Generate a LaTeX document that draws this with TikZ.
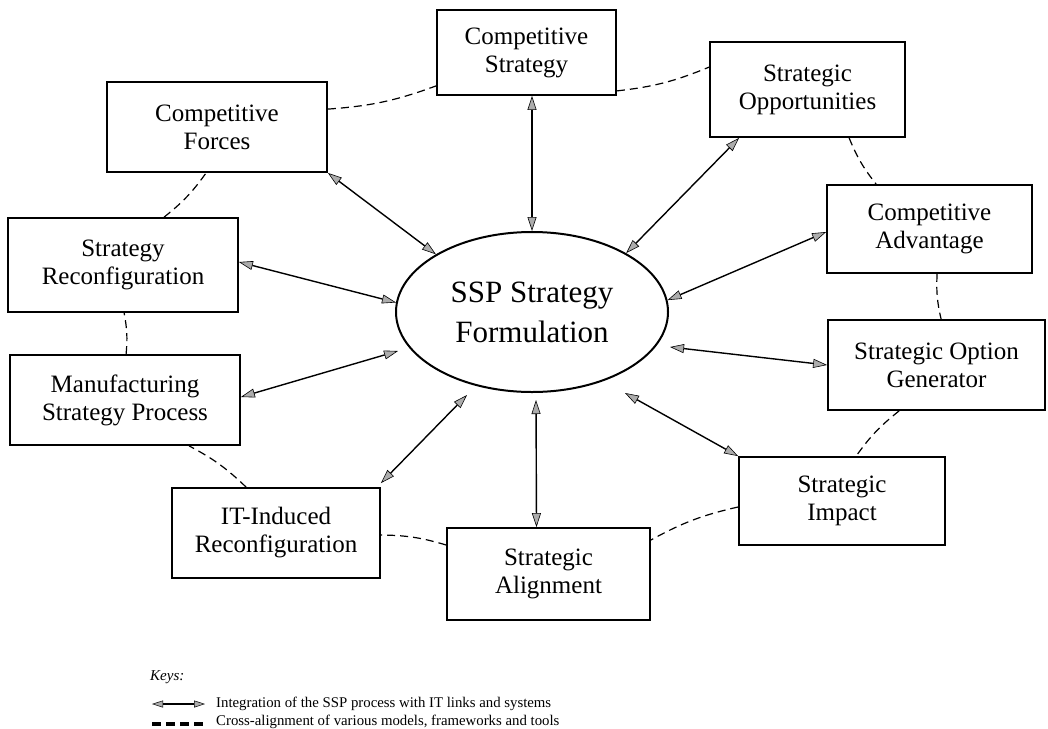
\documentclass[tikz,border=0pt]{standalone}
\usepackage{fontspec}
\setmainfont{Liberation Serif}
\usetikzlibrary{arrows.meta,shapes.geometric,calc}
\begin{document}
\begin{tikzpicture}[x=1pt,y=-1pt,
  box/.style={draw, line width=1.8pt, align=center, inner sep=0pt,
    font=\fontsize{25}{28}\selectfont},
  link/.style={line width=1.4pt, {Triangle[length=14pt,width=9pt,fill=gray!65,line width=0.6pt]}-{Triangle[length=14pt,width=9pt,fill=gray!65,line width=0.6pt]}},
  ring/.style={line width=1.2pt, dash pattern=on 8pt off 5pt, bend right=8},
  keytext/.style={anchor=west, inner sep=0pt, font=\fontsize{14.8}{17}\selectfont}]
\useasboundingbox (0,0) rectangle (1048,728);

% central process
\node[draw, ellipse, line width=2pt, minimum width=272pt, minimum height=160pt,
  inner sep=0pt, align=center, font=\fontsize{31}{40}\selectfont] (ell) at (532,312)
  {SSP Strategy\\Formulation};

% surrounding models and frameworks
\node[box, minimum width=179pt, minimum height=85pt] (cs)  at (526.5,52.5) {Competitive\\Strategy};
\node[box, minimum width=220pt, minimum height=90pt] (cf)  at (217,127)    {Competitive\\Forces};
\node[box, minimum width=195pt, minimum height=95pt] (so)  at (807.5,89.5) {Strategic\\Opportunities};
\node[box, minimum width=205pt, minimum height=88pt] (ca)  at (929.5,229)  {Competitive\\Advantage};
\node[box, minimum width=217pt, minimum height=90pt] (sog) at (936.5,365)  {Strategic Option\\Generator};
\node[box, minimum width=206pt, minimum height=88pt] (si)  at (842,501)    {Strategic\\Impact};
\node[box, minimum width=203pt, minimum height=92pt] (sa)  at (548.5,574)  {Strategic\\Alignment};
\node[box, minimum width=208pt, minimum height=90pt] (it)  at (276,533)    {IT-Induced\\Reconfiguration};
\node[box, minimum width=230pt, minimum height=90pt] (msp) at (125,400)    {Manufacturing\\Strategy Process};
\node[box, minimum width=230pt, minimum height=94pt] (sr)  at (123,265)    {Strategy\\Reconfiguration};

% arrow ends that stop short of the ellipse
\coordinate (eSOG) at ($(ell.center)+(138,35)$);
\coordinate (eSI)  at ($(ell.center)+(93,81)$);
\coordinate (eSA)  at ($(ell.center)+(4,88)$);
\coordinate (eIT)  at ($(ell.center)+(-65,83)$);
\coordinate (eMSP) at ($(ell.center)+(-134,39)$);

% integration links
\draw[link] (cs.south -| ell.north) -- (ell.north);
\draw[link] (cf.south east) -- (ell.149);
\draw[link] ($(so.south west)+(30,0)$) -- (ell.32);
\draw[link] ($(ca.west)+(0,3)$) -- (ell.5);
\draw[link] (sog.west) -- (eSOG);
\draw[link] (si.north west) -- (eSI);
\draw[link] ($(sa.north)+(-12,0)$) -- (eSA);
\draw[link] ($(it.north east)+(0,-4)$) -- (eIT);
\draw[link] ($(msp.east)+(0,-3)$) -- (eMSP);
\draw[link] ($(sr.east)+(0,-3)$) -- (ell.176);

% cross-alignment ring
\draw[ring] ($(cf.north east)+(0,28)$) to ($(cs.south west)+(0,-10)$);
\draw[ring] ($(cs.south east)+(0,-5)$) to ($(so.north west)+(0,26)$);
\draw[ring] ($(so.south west)+(140,0)$) to ($(ca.north west)+(50,0)$);
\draw[ring] ($(ca.south west)+(111,0)$) to ($(sog.north west)+(114,0)$);
\draw[ring] ($(sog.south west)+(72,0)$) to ($(si.north west)+(118,0)$);
\draw[ring] ($(si.west)+(0,6)$) to ($(sa.east)+(0,-34)$);
\draw[ring] ($(sa.west)+(0,-29)$) to ($(it.east)+(0,2)$);
\draw[ring] ($(it.north west)+(75,0)$) to ($(msp.south west)+(180,0)$);
\draw[ring] ($(msp.north west)+(117,0)$) to ($(sr.south west)+(117,0)$);
\draw[ring] ($(sr.north west)+(157,0)$) to ($(cf.south west)+(100,0)$);

% keys
\node[anchor=west, inner sep=0pt, font=\itshape\fontsize{15}{18}\selectfont] (keys) at (150,677) {Keys:};
\coordinate (ka1) at (152,704);
\coordinate (ka2) at (205,704);
\draw[line width=1.3pt, {Triangle[length=11pt,width=7pt,fill=gray!65,line width=0.5pt]}-{Triangle[length=11pt,width=7pt,fill=gray!65,line width=0.5pt]}] (ka1) -- (ka2);
\coordinate (kd1) at (152,724);
\coordinate (kd2) at (205,724);
\draw[line width=4pt, dash pattern=on 9pt off 5pt] (kd1) -- (kd2);
\node[keytext] (k1) at (216,704) {Integration of the SSP process with IT links and systems};
\node[keytext] (k2) at (216,722) {Cross-alignment of various models, frameworks and tools};
\end{tikzpicture}
\end{document}
